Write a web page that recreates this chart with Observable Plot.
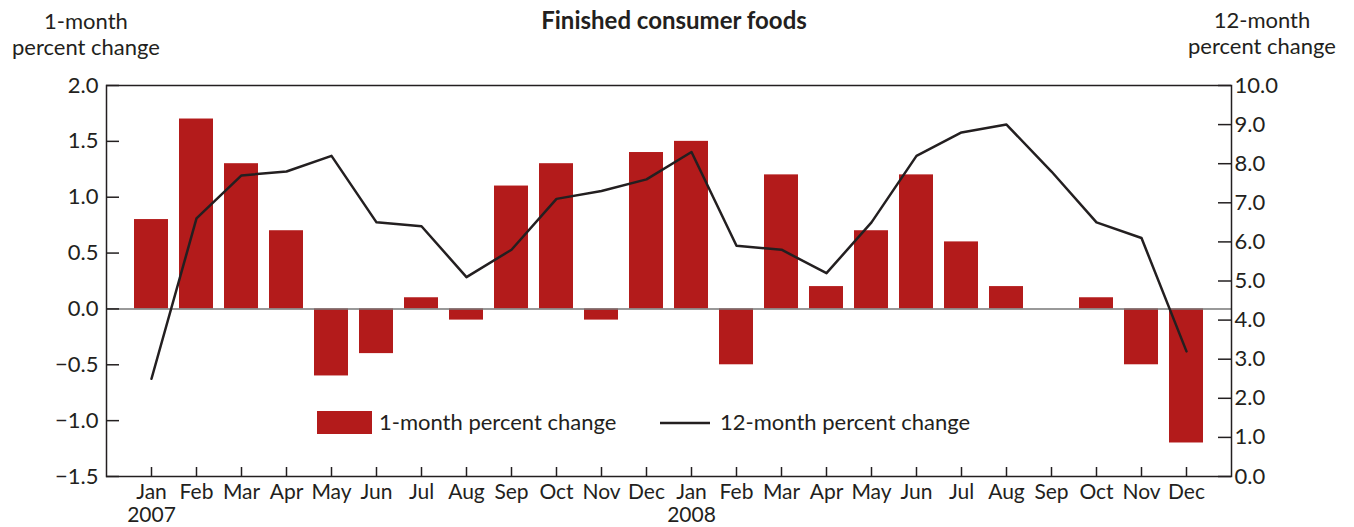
<!DOCTYPE html>
<html>
<head>
<meta charset="utf-8">
<script src="https://cdn.jsdelivr.net/npm/d3@7"></script>
<script src="https://cdn.jsdelivr.net/npm/@observablehq/plot@0.6"></script>
<style>
  html, body { margin: 0; padding: 0; background: #fff; }
  #chart svg { display: block; }
</style>
</head>
<body>
<div id="chart"></div>
<script>
const months = ["Jan","Feb","Mar","Apr","May","Jun","Jul","Aug","Sep","Oct","Nov","Dec",
                "Jan","Feb","Mar","Apr","May","Jun","Jul","Aug","Sep","Oct","Nov","Dec"];
const years = ["2007","","","","","","","","","","","",
               "2008","","","","","","","","","","",""];
const oneMonth = [0.8, 1.7, 1.3, 0.7, -0.6, -0.4, 0.1, -0.1, 1.1, 1.3, -0.1, 1.4,
                  1.5, -0.5, 1.2, 0.2, 0.7, 1.2, 0.6, 0.2, 0.0, 0.1, -0.5, -1.2];
const twelveMonth = [2.5, 6.6, 7.7, 7.8, 8.2, 6.5, 6.4, 5.1, 5.8, 7.1, 7.3, 7.6,
                     8.3, 5.9, 5.8, 5.2, 6.5, 8.2, 8.8, 9.0, 7.8, 6.5, 6.1, 3.2];
const leftTicks = [-1.5, -1.0, -0.5, 0.0, 0.5, 1.0, 1.5, 2.0];
const rightTicks = [0, 1, 2, 3, 4, 5, 6, 7, 8, 9, 10];
const leftDomain = [-1.5, 2.0];
const rightDomain = [0, 10];

const title = "Finished consumer foods";
const leftTitle = ["1-month", "percent change"];
const rightTitle = ["12-month", "percent change"];
const legendLabels = ["1-month percent change", "12-month percent change"];

// map right-axis values onto the left scale
const toLeft = v => leftDomain[0] + (v - rightDomain[0]) / (rightDomain[1] - rightDomain[0]) * (leftDomain[1] - leftDomain[0]);
const fmtMinus = v => (v < 0 ? "\u2212" + Math.abs(v).toFixed(1) : v.toFixed(1));

const W = 1354, H = 527;
const mL = 106, mR = 123, mT = 85, mB = 51;
const plotW = W - mL - mR, plotH = H - mT - mB;
const ink = "#231f20";
const red = "#b31b1b";
const font = "Lato, 'Open Sans', sans-serif";
const fs = 22;
const fsX = 21;

const idx = d3.range(months.length);

const chart = Plot.plot({
  width: W, height: H,
  marginLeft: mL, marginRight: mR, marginTop: mT, marginBottom: mB,
  style: { fontFamily: font, fontSize: fs + "px", color: ink, background: "#fff" },
  x: { type: "band", domain: idx, paddingInner: 0.25, paddingOuter: 0.565, axis: null },
  y: { domain: leftDomain, axis: null },
  marks: [
    Plot.barY(idx, { x: i => i, y: i => oneMonth[i], fill: red }),
    Plot.ruleY([0], { stroke: "#777777", strokeWidth: 1.5 }),
    Plot.lineY(idx, { x: i => i, y: i => toLeft(twelveMonth[i]), stroke: ink, strokeWidth: 2.5 }),
    // inward ticks
    Plot.tickY(leftTicks, { y: d => d, stroke: ink, strokeWidth: 1.5, insetRight: plotW - 13 }),
    Plot.tickY(rightTicks, { y: d => toLeft(d), stroke: ink, strokeWidth: 1.5, insetLeft: plotW - 13 }),
    Plot.tickX(idx, { x: i => i, stroke: ink, strokeWidth: 1.5, insetTop: plotH - 9 }),
    Plot.frame({ stroke: ink, strokeWidth: 1.5 }),
    // axis labels
    Plot.axisY({ anchor: "left", ticks: leftTicks, tickSize: 0, tickPadding: 8, tickFormat: fmtMinus, fill: ink, fontSize: fs }),
    Plot.axisY({ anchor: "right", ticks: rightTicks.map(toLeft), tickSize: 0, tickPadding: 3,
                 tickFormat: (d, i) => rightTicks[i].toFixed(1), fill: ink, fontSize: fs }),
    Plot.axisX({ anchor: "bottom", tickSize: 0, tickPadding: 8,
                 tickFormat: i => months[i], fill: ink, fontSize: fsX }),
    Plot.axisX(idx.filter(i => years[i]), { anchor: "bottom", tickSize: 0, tickPadding: 31,
                 tickFormat: i => years[i], fill: ink, fontSize: fsX })
  ]
});

document.getElementById("chart").appendChild(chart);

const svg = d3.select(chart);
const ann = svg.append("g").attr("font-family", font).attr("fill", ink).attr("font-size", fs)
  .attr("text-anchor", "start");

ann.append("text").attr("x", 674).attr("y", 29).attr("text-anchor", "middle")
  .attr("font-weight", "bold").attr("font-size", 24).text(title);

leftTitle.forEach((t, i) => ann.append("text").attr("x", 86).attr("y", 29 + i * 26)
  .attr("text-anchor", "middle").text(t));
rightTitle.forEach((t, i) => ann.append("text").attr("x", 1262).attr("y", 28 + i * 26)
  .attr("text-anchor", "middle").text(t));

// legend
ann.append("rect").attr("x", 317).attr("y", 411).attr("width", 55).attr("height", 23).attr("fill", red);
ann.append("text").attr("x", 379).attr("y", 430).attr("text-anchor", "start").text(legendLabels[0]);
ann.append("line").attr("x1", 660).attr("x2", 710).attr("y1", 423).attr("y2", 423)
  .attr("stroke", ink).attr("stroke-width", 2.5);
ann.append("text").attr("x", 720).attr("y", 430).attr("text-anchor", "start").text(legendLabels[1]);
</script>
</body>
</html>
